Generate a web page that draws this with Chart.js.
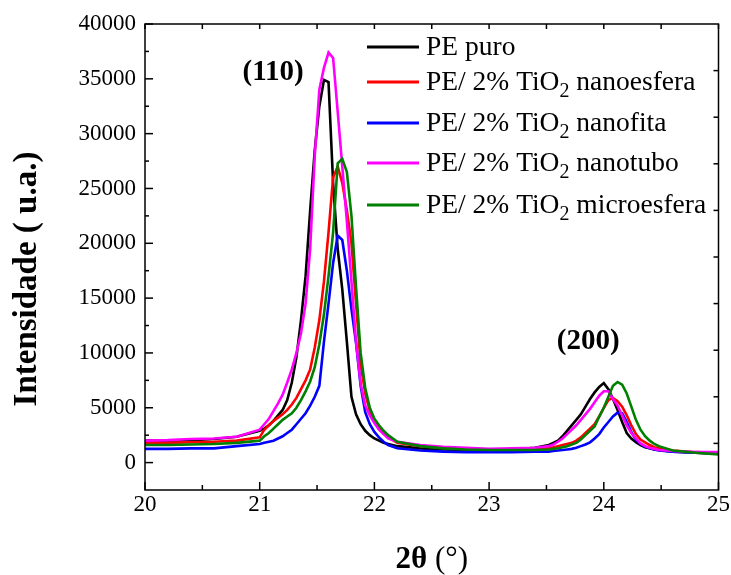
<!DOCTYPE html>
<html>
<head>
<meta charset="utf-8">
<script src="https://cdn.jsdelivr.net/npm/chart.js@4/dist/chart.umd.min.js"></script>
<style>
  html, body { margin: 0; padding: 0; background: #fff; }
  #wrap { width: 731px; height: 575px; }
</style>
</head>
<body>
<div id="wrap"><canvas id="xrd" width="731" height="575"></canvas></div>
<script>
/* Angulos 2theta (grade comum) */
const angulos = [
  20.0, 20.2, 20.4, 20.6, 20.8, 21.0,
  21.04, 21.08, 21.12, 21.16, 21.20, 21.24, 21.28, 21.32, 21.36, 21.40,
  21.44, 21.48, 21.52, 21.56, 21.60, 21.64, 21.68, 21.72, 21.76, 21.80,
  21.84, 21.88, 21.92, 21.96, 22.00, 22.04, 22.08, 22.12,
  22.2, 22.4, 22.6, 22.8, 23.0, 23.2, 23.4,
  23.52, 23.56, 23.60, 23.64, 23.68, 23.72, 23.76, 23.80, 23.84, 23.88,
  23.92, 23.96, 24.00, 24.04, 24.08, 24.12, 24.16, 24.20, 24.24, 24.28,
  24.32, 24.36, 24.40, 24.44, 24.48,
  24.6, 24.8, 25.0
];

/* Intensidades */
const pePuro = [
  2000, 2000, 2050, 2150, 2350, 2900,
  3100, 3400, 3800, 4300, 4800, 5700, 7300, 9600, 13000, 17000,
  23000, 28500, 32500, 34900, 34700, 25500, 19500, 15800, 11000, 6000,
  4400, 3500, 2900, 2500, 2200, 2000, 1800, 1700,
  1500, 1300, 1200, 1150, 1150, 1200, 1350,
  1600, 1800, 2000, 2400, 2900, 3400, 3900, 4400, 5100, 5800,
  6400, 6900, 7250, 6700, 5800, 4800, 3700, 2700, 2200, 1850,
  1600, 1400, 1300, 1200, 1150,
  1000, 900, 800
];

const nanoesfera = [
  1800, 1800, 1850, 1900, 2000, 2300,
  3000, 3400, 3800, 4100, 4400, 4800, 5300, 5900, 6700, 7500,
  8500, 10500, 13000, 16500, 21000, 26000, 27000, 25500, 23000, 20000,
  14500, 9000, 6300, 4700, 3800, 3200, 2700, 2300,
  1800, 1500, 1350, 1250, 1200, 1200, 1250,
  1350, 1400, 1500, 1600, 1700, 1800, 2000, 2300, 2700, 3100,
  3500, 4200, 5000, 5700, 5900, 5600, 5100, 4300, 3400, 2600,
  2100, 1850, 1600, 1400, 1300,
  1100, 950, 900
];

const nanofita = [
  1250, 1250, 1300, 1300, 1500, 1700,
  1800, 1900, 2000, 2200, 2400, 2700, 3000, 3500, 4000, 4500,
  5200, 6000, 7000, 11000, 14500, 18200, 20700, 20300, 17500, 14000,
  10900, 7000, 4600, 3500, 2800, 2300, 1900, 1600,
  1300, 1100, 1000, 950, 950, 950, 1000,
  1000, 1050, 1100, 1150, 1200, 1250, 1350, 1500, 1650, 1850,
  2200, 2600, 3200, 3700, 4200, 4550, 4500, 3700, 2800, 2100,
  1700, 1450, 1300, 1200, 1100,
  1000, 900, 850
];

const nanotubo = [
  2000, 2050, 2150, 2200, 2350, 3000,
  3500, 4000, 4700, 5400, 6200, 7300, 8500, 10000, 11800, 14500,
  19500, 28000, 34000, 36000, 37400, 36900, 32000, 27000, 22000, 16500,
  11000, 7200, 5200, 4300, 3600, 3000, 2600, 2200,
  1900, 1600, 1450, 1350, 1250, 1300, 1350,
  1500, 1650, 1900, 2200, 2600, 3000, 3400, 3900, 4400, 4900,
  5500, 6100, 6500, 6500, 5800, 5200, 4300, 3400, 2700, 2200,
  1750, 1500, 1350, 1250, 1150,
  1050, 950, 950
];

const microesfera = [
  1600, 1600, 1650, 1700, 1800, 2000,
  2400, 2700, 3100, 3500, 3900, 4200, 4500, 5000, 5700, 6500,
  7400, 8700, 10800, 13500, 17000, 21000, 27300, 27700, 26500, 22500,
  16000, 10000, 6800, 5000, 4000, 3400, 2900, 2500,
  1900, 1500, 1300, 1200, 1150, 1150, 1150,
  1200, 1250, 1300, 1400, 1500, 1650, 1800, 2100, 2500, 2900,
  3300, 4200, 5000, 6000, 7000, 7350, 7100, 6300, 5100, 3900,
  3000, 2400, 2000, 1700, 1500,
  1100, 900, 750
];

const nomes = [
  "PE puro",
  "PE/ 2% TiO2 nanoesfera",
  "PE/ 2% TiO2 nanofita",
  "PE/ 2% TiO2 nanotubo",
  "PE/ 2% TiO2 microesfera"
];
const cores = ["#000000", "#ff0000", "#0000ff", "#ff00ff", "#008000"];
const series = [pePuro, nanoesfera, nanofita, nanotubo, microesfera];

const xTicks = [20, 21, 22, 23, 24, 25];
const yTicks = [0, 5000, 10000, 15000, 20000, 25000, 30000, 35000, 40000];
const picos = [
  { rotulo: "(110)", x: 20.85, y: 35600 },
  { rotulo: "(200)", x: 23.59, y: 11000 }
];

const SERIF = "'Liberation Serif', 'Times New Roman', serif";
Chart.defaults.font.family = SERIF;
Chart.defaults.color = "#000";

/* Desenho extra: ticks internos, titulos, legenda, picos */
const extras = {
  id: "extras",
  afterDraw(chart) {
    const ctx = chart.ctx;
    const a = chart.chartArea;
    const sx = chart.scales.x, sy = chart.scales.y, sy2 = chart.scales.y2;
    ctx.save();
    ctx.strokeStyle = "#000";
    ctx.lineWidth = 1.5;

    function linha(x1, y1, x2, y2) {
      ctx.beginPath(); ctx.moveTo(x1, y1); ctx.lineTo(x2, y2); ctx.stroke();
    }

    // moldura
    ctx.strokeRect(a.left, a.top, a.right - a.left, a.bottom - a.top);

    // eixo x (baixo e topo)
    for (let v = 20; v <= 25.001; v += 0.5) {
      const px = sx.getPixelForValue(v);
      const maior = Math.abs(v - Math.round(v)) < 1e-6;
      linha(px, a.bottom, px, a.bottom - (maior ? 8 : 5));
      linha(px, a.top, px, a.top + 5);
    }
    // eixo y esquerdo
    for (let v = 0; v <= 40000; v += 2500) {
      const py = sy.getPixelForValue(v);
      const maior = v % 5000 === 0;
      linha(a.left, py, a.left + (maior ? 8 : 4), py);
    }
    // eixo y direito
    for (let v = 1; v < 10; v++) {
      const py = sy2.getPixelForValue(v);
      linha(a.right, py, a.right - 5, py);
    }

    ctx.fillStyle = "#000";

    // titulo y
    ctx.save();
    ctx.translate(27, 279);
    ctx.rotate(-Math.PI / 2);
    ctx.font = "bold 33px " + SERIF;
    ctx.textAlign = "center";
    ctx.textBaseline = "middle";
    ctx.fillText("Intensidade ( u.a.)", 0, 0);
    ctx.restore();

    // titulo x
    ctx.font = "bold 31px " + SERIF;
    const p1 = "2\u03b8";
    const w1 = ctx.measureText(p1).width;
    ctx.font = "31px " + SERIF;
    const p2 = " (\u00b0)";
    const w2 = ctx.measureText(p2).width;
    let tx = (a.left + a.right) / 2 - (w1 + w2) / 2;
    ctx.textBaseline = "alphabetic";
    ctx.textAlign = "left";
    ctx.font = "bold 31px " + SERIF;
    ctx.fillText(p1, tx, 568);
    ctx.font = "31px " + SERIF;
    ctx.fillText(p2, tx + w1, 568);

    // rotulos dos picos
    ctx.font = "bold 29px " + SERIF;
    ctx.textAlign = "left";
    ctx.textBaseline = "middle";
    picos.forEach(p => {
      ctx.fillText(p.rotulo, sx.getPixelForValue(p.x), sy.getPixelForValue(p.y));
    });

    // legenda
    const ly = [47, 82, 123, 163, 205];
    nomes.forEach((n, i) => {
      ctx.strokeStyle = cores[i];
      ctx.lineWidth = 3;
      linha(367, ly[i], 419, ly[i]);
      ctx.fillStyle = "#000";
      ctx.textBaseline = "alphabetic";
      const base = ly[i] + 8;
      let x = 426;
      const partes = n.split("TiO2");
      ctx.font = "27.5px " + SERIF;
      if (partes.length === 1) {
        ctx.fillText(n, x, base);
      } else {
        const t0 = partes[0] + "TiO";
        ctx.fillText(t0, x, base);
        x += ctx.measureText(t0).width;
        ctx.font = "20px " + SERIF;
        ctx.fillText("2", x, base + 7);
        x += ctx.measureText("2").width;
        ctx.font = "27.5px " + SERIF;
        ctx.fillText(partes[1], x, base);
      }
    });
    ctx.restore();
  }
};

const datasets = series.map((s, i) => ({
  label: nomes[i],
  data: angulos.map((a, j) => ({ x: a, y: s[j] })),
  borderColor: cores[i],
  borderWidth: 2.6,
  pointRadius: 0,
  tension: 0,
  fill: false,
  order: series.length - 1 - i
}));

new Chart(document.getElementById("xrd"), {
  type: "line",
  data: { datasets: datasets },
  options: {
    responsive: false,
    animation: false,
    layout: { padding: { top: 24, right: 12, left: 0, bottom: 0 } },
    plugins: { legend: { display: false }, tooltip: { enabled: false } },
    scales: {
      x: {
        type: "linear",
        min: 20, max: 25,
        afterBuildTicks: (s) => { s.ticks = xTicks.map(v => ({ value: v })); },
        afterFit: (s) => { s.height = 85; },
        grid: { display: false, drawTicks: false },
        border: { display: false },
        ticks: { color: "#000", padding: 1, maxRotation: 0, font: { family: SERIF, size: 23 } }
      },
      y: {
        min: -2500, max: 40000,
        afterBuildTicks: (s) => { s.ticks = yTicks.map(v => ({ value: v })); },
        afterFit: (s) => { s.width = 145; },
        grid: { display: false, drawTicks: false },
        border: { display: false },
        ticks: {
          color: "#000", padding: 9, font: { family: SERIF, size: 23 },
          callback: (v) => String(v)
        }
      },
      y2: {
        position: "right",
        min: 0, max: 10,
        afterFit: (s) => { s.width = 0; },
        grid: { display: false, drawTicks: false },
        border: { display: false },
        ticks: { display: false, stepSize: 1 }
      }
    }
  },
  plugins: [extras]
});
</script>
</body>
</html>
